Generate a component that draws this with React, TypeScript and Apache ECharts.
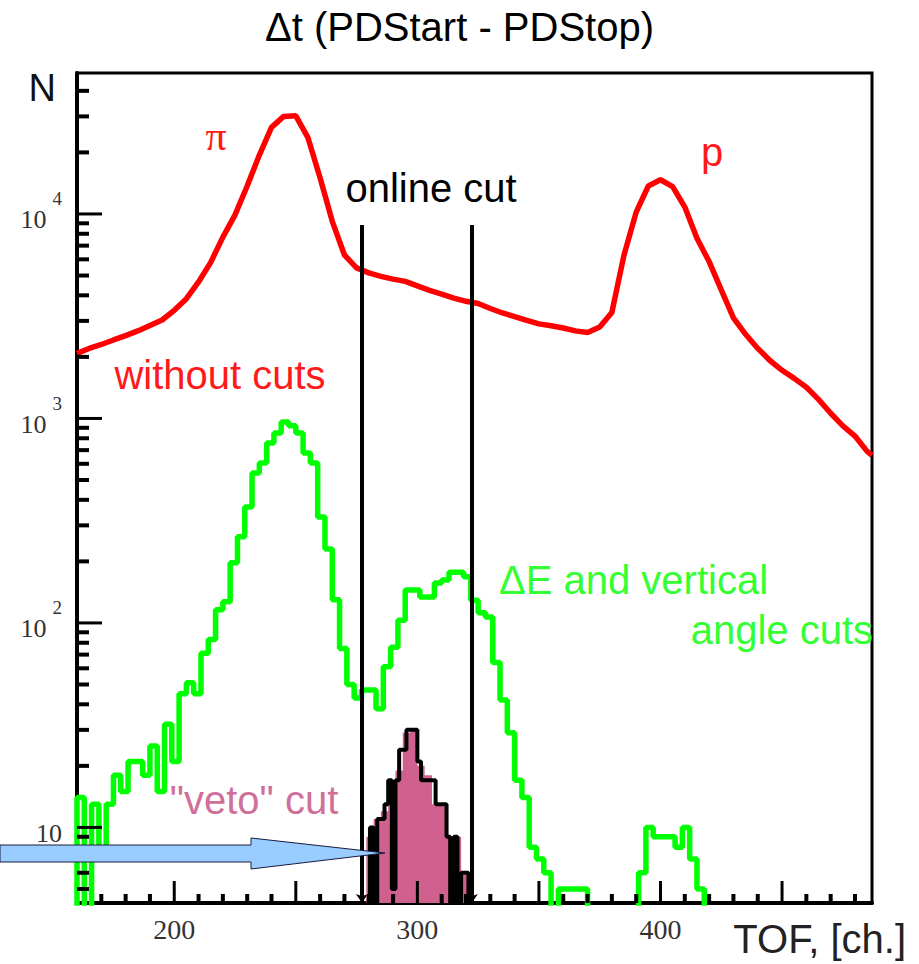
import React, { useEffect, useRef } from "react";
import * as echarts from "echarts";

// ---- axis ranges ----
const X_MIN = 160;
const X_MAX = 487;
const Y_MIN = 4.27;
const Y_MAX = 48900;

// ---- "without cuts" (red) ----
const redX = [160, 165, 170, 175, 180, 185, 190, 195, 200, 205, 210, 215, 220, 225, 230, 235, 240, 245, 250, 255, 260, 265, 270, 275, 280, 285, 290, 295, 300, 305, 310, 315, 320, 325, 330, 335, 340, 345, 350, 355, 360, 365, 370, 375, 380, 385, 390, 395, 400, 405, 410, 415, 420, 425, 430, 435, 440, 445, 450, 455, 460, 465, 470, 475, 480, 485, 487];
const redY = [2080, 2200, 2300, 2420, 2540, 2680, 2850, 3030, 3380, 3850, 4650, 5800, 7700, 9900, 13700, 19400, 26500, 30000, 30200, 23600, 15000, 9200, 6300, 5450, 5150, 4950, 4800, 4680, 4450, 4230, 4050, 3880, 3740, 3650, 3450, 3280, 3150, 3020, 2900, 2840, 2770, 2680, 2630, 2800, 3300, 6300, 10200, 13700, 14700, 13600, 10800, 7600, 5850, 4250, 3100, 2580, 2200, 1920, 1720, 1570, 1420, 1240, 1060, 920, 820, 690, 660];

// ---- "dE and vertical angle cuts" (green), 3-channel bins from 160 ----
const greenStart = 160;
const greenWidth = 3;
const greenCounts = [
  14, 1, 13, 7, 13, 18, 15, 21, 21, 18,
  25, 15, 32, 21, 45, 51, 45, 71, 83, 116,
  127, 197, 264, 369, 541, 606, 759, 849, 962, 920,
  849, 678, 606, 330, 230, 130, 75, 50, 43, 47,
  47, 38, 61, 76, 103, 145, 145, 134, 134, 157,
  162, 177, 177, 168, 129, 112, 107, 64, 42, 29,
  17, 14, 8, 7, 6, 1, 5, 5, 5, 5,
  1, 1, 1, 1, 1, 1, 1, 6, 10, 9,
  9, 9, 8, 10, 7, 5, 1, 1, 1, 1,
  1, 1, 1, 1, 1, 1, 1, 1, 1, 1,
  1, 1, 1, 1, 1, 1, 1, 1, 1
];

// ---- "veto" cut (pink filled), 3-channel bins from 279 ----
const vetoStart = 279;
const vetoWidth = 3;
const vetoCounts = [9, 11, 12, 14, 19, 29, 30, 20, 18, 13, 13, 9, 9, 6];

// ---- black outline histogram, 1.5-channel bins from 277.5 ----
const blackStart = 277.5;
const blackWidth = 1.5;
const blackCounts = [1, 1, 10, 1, 11, 11, 13, 17, 5, 17, 24, 24, 30, 30, 30, 21, 17, 17, 17, 17, 13, 13, 13, 9, 1, 9, 1, 6, 6, 1];

// ---- online cut ----
const onlineCut = [277.2, 322.4];
const onlineCutTop = 8840;

// ---- ticks ----
const yMajorTicks = [10, 100, 1000, 10000];
const yMinorTicks = [5, 6, 7, 8, 9, 20, 30, 40, 50, 60, 70, 80, 90, 200, 300, 400, 500, 600, 700, 800, 900, 2000, 3000, 4000, 5000, 6000, 7000, 8000, 9000, 20000, 30000, 40000];
const xMajorTicks = [200, 250, 300, 350, 400, 450];
const xMinorTicks = [170, 180, 190, 210, 220, 230, 240, 260, 270, 280, 290, 310, 320, 330, 340, 360, 370, 380, 390, 410, 420, 430, 440, 460, 470, 480];

function histData(start: number, width: number, counts: number[]) {
  const d: number[][] = [[start, 1]];
  counts.forEach((c, i) => d.push([start + i * width, c]));
  d.push([start + counts.length * width, counts[counts.length - 1]]);
  d.push([start + counts.length * width, 1]);
  return d;
}

const SANS = "Liberation Sans";
const SERIF = "Liberation Serif";

export default function App() {
  const ref = useRef<HTMLDivElement>(null);
  useEffect(() => {
    if (!ref.current) return;
    const chart = echarts.init(ref.current, undefined, { renderer: "svg" });

    const xTickItem = (params: any, api: any) => {
      const p = api.coord([api.value(0), api.value(1)]);
      return {
        type: "line",
        shape: { x1: p[0], y1: p[1], x2: p[0], y2: p[1] - api.value(2) },
        style: { stroke: "#000", lineWidth: api.value(3) },
      };
    };
    const yTickItem = (params: any, api: any) => {
      const p = api.coord([api.value(0), api.value(1)]);
      return {
        type: "line",
        shape: { x1: p[0], y1: p[1], x2: p[0] + api.value(2), y2: p[1] },
        style: { stroke: "#000", lineWidth: api.value(3) },
      };
    };

    const option: any = {
      animation: false,
      backgroundColor: "#fff",
      title: {
        text: "\u0394t (PDStart - PDStop)",
        left: "center",
        top: 7,
        padding: 0,
        textStyle: { fontFamily: SANS, fontSize: 40, fontWeight: "normal", color: "#000" },
      },
      grid: {
        left: 77,
        right: 47,
        top: 73,
        bottom: 61,
        show: true,
        containLabel: false,
        outerBoundsMode: "none",
        borderColor: "#000",
        borderWidth: 3,
        backgroundColor: "transparent",
      },
      xAxis: {
        type: "value",
        min: X_MIN,
        max: X_MAX,
        interval: 20,
        name: "TOF, [ch.]",
        nameLocation: "end",
        nameGap: 34,
        nameTextStyle: {
          fontFamily: SANS,
          fontSize: 40,
          color: "#222",
          align: "right",
          verticalAlign: "top",
          lineHeight: 72,
        },
        axisLine: { show: true, lineStyle: { color: "#000", width: 4 } },
        axisTick: { show: false },
        splitLine: { show: false },
        axisLabel: {
          margin: 12,
          fontFamily: SERIF,
          fontSize: 28,
          color: "#333",
          showMinLabel: false,
          showMaxLabel: false,
          formatter: (v: number) => (Math.abs(v % 100) < 1e-6 ? String(v) : ""),
        },
      },
      yAxis: {
        type: "log",
        logBase: 10,
        min: Y_MIN,
        max: Y_MAX,
        name: "N",
        nameLocation: "end",
        nameGap: -15,
        nameTextStyle: {
          fontFamily: SANS,
          fontSize: 38,
          color: "#111",
          align: "right",
          verticalAlign: "middle",
          padding: [0, 21, 0, 0],
        },
        axisLine: { show: true, lineStyle: { color: "#000", width: 4 } },
        axisTick: { show: false },
        minorTick: { show: false },
        splitLine: { show: false },
        axisLabel: {
          margin: 15,
          showMinLabel: false,
          showMaxLabel: false,
          formatter: (v: number) => {
            const l = Math.log10(v);
            const e = Math.round(l);
            if (Math.abs(l - e) > 1e-6) return "";
            if (e === 1) return "{b|10}";
            return "{b|10}{s|" + e + "}";
          },
          rich: {
            b: { fontFamily: SERIF, fontSize: 26, color: "#333", padding: [12, 0, 0, 0] },
            s: { fontFamily: SERIF, fontSize: 19, color: "#333", padding: [0, 0, 30, 6] },
          },
        },
      },
      series: [
        {
          name: "without cuts",
          type: "line",
          data: redX.map((x, i) => [x, redY[i]]),
          symbol: "none",
          lineStyle: { color: "#ff0000", width: 5.5 },
          z: 3,
        },
        {
          name: "dE and vertical angle cuts",
          type: "line",
          step: "end",
          data: histData(greenStart, greenWidth, greenCounts),
          symbol: "none",
          lineStyle: { color: "#00ff00", width: 5.5 },
          z: 4,
        },
        {
          name: "veto cut",
          type: "line",
          step: "end",
          data: histData(vetoStart, vetoWidth, vetoCounts),
          symbol: "none",
          lineStyle: { width: 0, opacity: 0 },
          areaStyle: { color: "#d0608e", opacity: 1, origin: "start" },
          z: 5,
        },
        {
          name: "veto outline",
          type: "line",
          step: "end",
          data: histData(blackStart, blackWidth, blackCounts),
          symbol: "none",
          lineStyle: { color: "#000", width: 4 },
          z: 6,
          markLine: {
            silent: true,
            symbol: ["none", "arrow"],
            symbolSize: 9,
            label: { show: false },
            lineStyle: { color: "#000", width: 4, type: "solid" },
            data: onlineCut.map((c) => [
              { coord: [c, onlineCutTop] },
              { coord: [c, Y_MIN] },
            ]),
          },
        },
        {
          name: "x ticks",
          type: "custom",
          silent: true,
          clip: false,
          z: 10,
          renderItem: xTickItem,
          encode: { x: 0, y: 1 },
          data: [
            ...xMinorTicks.map((v) => [v, Y_MIN, 9, 4]),
            ...xMajorTicks.map((v) => [v, Y_MIN, 22, 3]),
          ],
        },
        {
          name: "y ticks",
          type: "custom",
          silent: true,
          clip: false,
          z: 10,
          renderItem: yTickItem,
          encode: { x: 0, y: 1 },
          data: [
            ...yMinorTicks.map((v) => [X_MIN, v, 12, 4]),
            ...yMajorTicks.map((v) => [X_MIN, v, 25, 3]),
          ],
        },
      ],
      graphic: [
        {
          type: "text", x: 216, y: 136, z: 50,
          style: { text: "\u03c0", fill: "#ff1a1a", fontFamily: SERIF, fontSize: 42, align: "center", verticalAlign: "middle" },
        },
        {
          type: "text", x: 712, y: 152, z: 50,
          style: { text: "p", fill: "#ff1a1a", fontFamily: SANS, fontSize: 40, align: "center", verticalAlign: "middle" },
        },
        {
          type: "text", x: 431, y: 188, z: 50,
          style: { text: "online cut", fill: "#000", fontFamily: SANS, fontSize: 40, align: "center", verticalAlign: "middle" },
        },
        {
          type: "text", x: 220, y: 375, z: 50,
          style: { text: "without cuts", fill: "#ff1a1a", fontFamily: SANS, fontSize: 40, align: "center", verticalAlign: "middle" },
        },
        {
          type: "text", x: 499, y: 580, z: 50,
          style: { text: "\u0394E and vertical", fill: "#33ff33", fontFamily: SANS, fontSize: 40, align: "left", verticalAlign: "middle" },
        },
        {
          type: "text", x: 873, y: 630, z: 50,
          style: { text: "angle cuts", fill: "#33ff33", fontFamily: SANS, fontSize: 40, align: "right", verticalAlign: "middle" },
        },
        {
          type: "text", x: 254, y: 800, z: 50,
          style: { text: "\"veto\" cut", fill: "#d0709a", fontFamily: SANS, fontSize: 40, align: "center", verticalAlign: "middle" },
        },
        {
          type: "polygon", z: 60,
          shape: { points: [[0, 845], [251, 845], [251, 838], [385, 853], [251, 869], [251, 862], [0, 862]] },
          style: { fill: "#99ccff", stroke: "#1c1c40", lineWidth: 1 },
        },
      ],
    };

    chart.setOption(option);
    return () => chart.dispose();
  }, []);

  return (
    <div
      ref={ref}
      style={{ position: "fixed", left: 0, top: 0, width: 919, height: 964, background: "#fff" }}
    />
  );
}
